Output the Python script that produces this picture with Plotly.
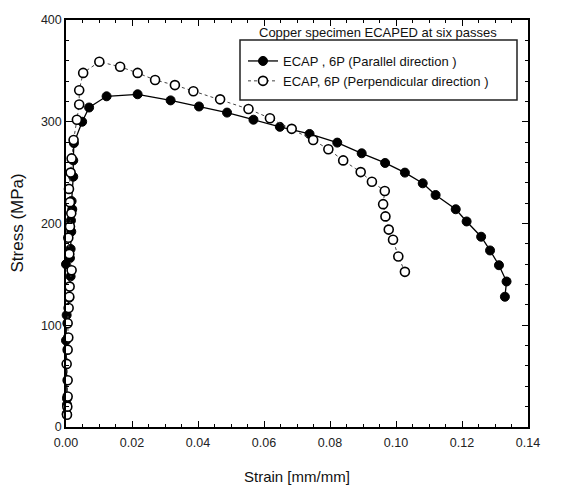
import plotly.graph_objects as go

# Parallel direction (filled circles)
strain_par = [0.0002, 0.0003, 0.0003, 0.0000, 0.0002, 0.0010, 0.0014, 0.0000, 0.0012,
              0.0014, 0.0016, 0.0015, 0.0019, 0.0017, 0.0022, 0.0022, 0.0024, 0.0049,
              0.0070, 0.0123, 0.0217, 0.0317, 0.0403, 0.0488, 0.0568, 0.0648, 0.0738,
              0.0822, 0.0896, 0.0967, 0.1027, 0.1081, 0.1120, 0.1181, 0.1214, 0.1258,
              0.1285, 0.1312, 0.1335, 0.1330]
stress_par = [13, 22, 28, 85, 110, 127, 148, 160, 166,
              175, 192, 203, 214, 222, 246, 262, 279, 300,
              314, 325, 327, 321, 315, 309, 302, 295, 288,
              279.5, 269, 259.5, 250, 239.5, 228, 214, 202, 187,
              173.5, 159, 143, 128]

# Perpendicular direction (open circles)
strain_perp = [0.0003, 0.0004, 0.0005, 0.0005, 0.0002, 0.0005, 0.0007, 0.0005, 0.0008,
               0.0010, 0.0011, 0.0017, 0.0010, 0.0007, 0.0012, 0.0016, 0.0012, 0.0009,
               0.0014, 0.0017, 0.0023, 0.0033, 0.0040, 0.0040, 0.0052, 0.0101, 0.0164,
               0.0217, 0.0270, 0.0330, 0.0386, 0.0467, 0.0553, 0.0618, 0.0684, 0.0749,
               0.0795, 0.0840, 0.0893, 0.0927, 0.0966, 0.0961, 0.0968, 0.0978, 0.0991,
               0.1007, 0.1027]
stress_perp = [12, 20, 30, 46, 62, 76, 88, 102, 117,
               128, 138, 154, 170, 186, 197, 210, 221, 234,
               250, 264, 282, 302, 317, 331, 348, 359, 354,
               348, 341, 336, 330, 322, 312.5, 303.5, 293, 282,
               273, 262, 250.5, 241, 232, 219, 207, 194, 184,
               167.5, 152.5]

series_names = ["ECAP , 6P (Parallel direction )", "ECAP, 6P (Perpendicular direction )"]
legend_title = "Copper specimen ECAPED at six passes"
x_title = "Strain [mm/mm]"
y_title = "Stress (MPa)"

FONT = "Liberation Sans, Arial, sans-serif"

fig = go.Figure()
fig.add_trace(go.Scatter(
    x=strain_par, y=stress_par, mode="lines+markers", name=series_names[0],
    line=dict(color="black", width=1.3),
    marker=dict(symbol="circle", size=9, color="black", line=dict(color="black", width=1)),
    cliponaxis=False,
))
fig.add_trace(go.Scatter(
    x=strain_perp, y=stress_perp, mode="lines+markers", name=series_names[1],
    line=dict(color="#444", width=1, dash="dot"),
    marker=dict(symbol="circle", size=9, color="white", line=dict(color="black", width=1.6)),
    cliponaxis=False,
))

L, R, T, B = 66, 33, 20, 59
W, H = 561, 486
pw, ph = W - L - R, H - T - B

def px(xp):
    return (xp - L) / pw

def py(yp):
    return (H - B - yp) / ph

axis_common = dict(
    showline=True, linecolor="black", linewidth=1.5, mirror="allticks",
    ticks="inside", ticklen=6, tickwidth=1, tickcolor="black",
    showgrid=False, zeroline=False,
    tickfont=dict(family=FONT, size=12.5, color="#222"),
)

fig.update_xaxes(range=[0, 0.14], dtick=0.02, tick0=0, tickformat=".2f",
                 ticklabelstandoff=3,
                 minor=dict(dtick=0.005, ticks="inside", ticklen=3, tickcolor="black", showgrid=False),
                 **axis_common)
fig.update_yaxes(range=[0, 400], dtick=100, tick0=0,
                 minor=dict(dtick=20, ticks="inside", ticklen=3, tickcolor="black", showgrid=False),
                 **axis_common)

fig.add_shape(type="rect", xref="paper", yref="paper",
              x0=px(240), x1=px(517), y0=py(100), y1=py(40),
              line=dict(color="#222", width=1.5))

fig.add_annotation(text=legend_title, xref="paper", yref="paper",
                   x=px(378), y=py(32), xanchor="center", yanchor="middle",
                   showarrow=False, font=dict(family=FONT, size=13, color="#111"))
fig.add_annotation(text=x_title, xref="paper", yref="paper",
                   x=0.5, y=py(476), xanchor="center", yanchor="middle",
                   showarrow=False, font=dict(family=FONT, size=15, color="#111"))
fig.add_annotation(text=y_title, xref="paper", yref="paper",
                   x=px(17), y=0.5, xanchor="center", yanchor="middle", textangle=-90,
                   showarrow=False, font=dict(family=FONT, size=17, color="#111"))

fig.update_layout(
    width=W, height=H,
    margin=dict(l=L, r=R, t=T, b=B),
    paper_bgcolor="white", plot_bgcolor="white",
    showlegend=True,
    legend=dict(x=px(243), y=py(46), xanchor="left", yanchor="top",
                bgcolor="rgba(0,0,0,0)", borderwidth=0, tracegroupgap=0,
                font=dict(family=FONT, size=13, color="#111")),
)

fig.write_html("out.html")
